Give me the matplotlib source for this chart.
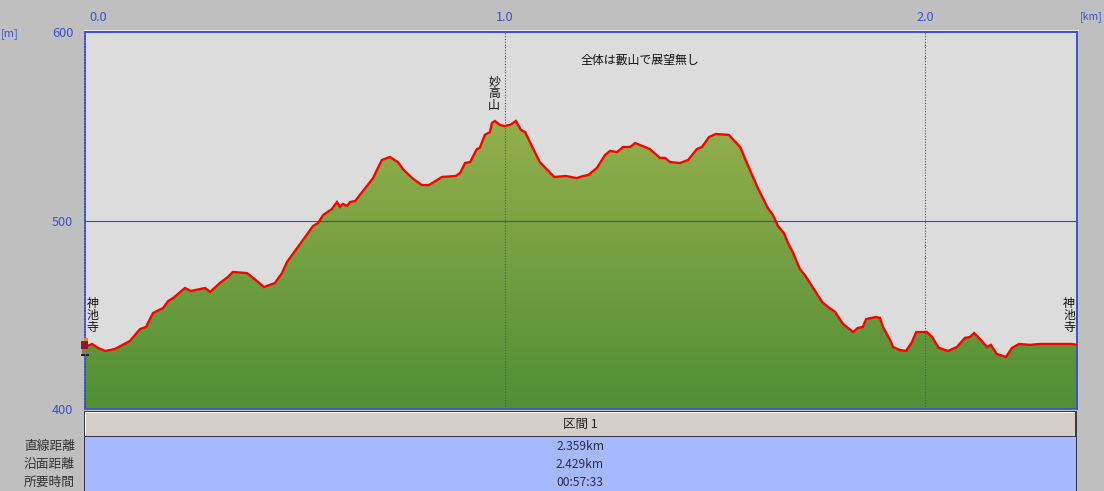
import numpy as np
import matplotlib.pyplot as plt
from matplotlib.patches import Rectangle, Polygon
from matplotlib.colors import LinearSegmentedColormap
from matplotlib.transforms import ScaledTranslation

plt.rcParams['font.family'] = ['Noto Sans CJK JP', 'DejaVu Sans']

W, H = 1104, 491

# profile
dist_km = [0, .017, .031, .048, .071, .107, .131, .145, .162, .186, .198, .210, .238, .252, .286, .298,
           .321, .340, .352, .386, .412, .426, .452, .469, .481, .500, .524, .543, .555, .567, .588, .600,
           .607, .614, .624, .631, .643, .660, .686, .695, .707, .726, .745, .757, .779, .802, .819, .850,
           .883, .893, .905, .917, .933, .940, .952, .964, .969, .976, .988, .998, 1.012, 1.026, 1.038, 1.048,
           1.064, 1.083, 1.117, 1.145, 1.171, 1.186, 1.198, 1.219, 1.238, 1.250, 1.267, 1.281, 1.298, 1.310,
           1.345, 1.369, 1.381, 1.393, 1.417, 1.436, 1.457, 1.469, 1.486, 1.502, 1.533, 1.560, 1.576, 1.602,
           1.626, 1.638, 1.650, 1.664, 1.674, 1.686, 1.702, 1.714, 1.755, 1.769, 1.786, 1.805, 1.829, 1.840,
           1.852, 1.860, 1.883, 1.893, 1.900, 1.917, 1.924, 1.940, 1.955, 1.969, 1.979, 2.005, 2.017, 2.033,
           2.055, 2.076, 2.095, 2.107, 2.117, 2.131, 2.148, 2.157, 2.171, 2.193, 2.207, 2.224, 2.250, 2.274,
           2.350, 2.362]
elev_m = [432.9, 434.5, 432.4, 430.8, 431.8, 436.1, 442.4, 443.5, 450.9, 453.6, 457.3, 458.9, 464.2, 462.6, 464.2, 462.1,
          466.8, 470.0, 472.7, 472.1, 467.4, 464.7, 466.8, 472.1, 478.0, 483.8, 491.2, 497.1, 498.7, 502.9, 506.1, 509.8,
          507.2, 508.8, 507.7, 509.8, 510.3, 515.1, 522.5, 526.8, 532.1, 533.7, 531.0, 527.3, 522.5, 518.8, 518.8, 523.1,
          523.6, 525.2, 530.5, 531.0, 537.9, 538.5, 545.4, 546.9, 551.7, 552.8, 550.7, 550.1, 550.7, 552.8, 548.0, 546.9,
          539.5, 531.0, 523.1, 523.6, 522.5, 523.6, 524.1, 527.9, 534.7, 536.9, 536.3, 539.0, 539.0, 541.1,
          537.9, 533.2, 533.2, 531.0, 530.5, 532.1, 537.9, 539.0, 544.3, 545.9, 545.4, 539.0, 530.5, 517.2,
          506.6, 502.9, 497.1, 493.4, 488.1, 482.8, 474.3, 471.1, 456.8, 454.1, 451.5, 445.1, 440.8, 443.0,
          443.5, 447.7, 448.8, 448.3, 443.5, 436.6, 432.9, 431.3, 430.8, 435.5, 440.8, 440.8, 438.2, 432.4,
          430.8, 432.9, 437.7, 438.2, 440.3, 437.1, 432.9, 434.0, 429.2, 427.6, 432.4, 434.5, 434.0, 434.5,
          434.5, 434.0]

x_ticks = [0.0, 1.0, 2.0]
x_labels = ['0.0', '1.0', '2.0']
y_ticks = [400, 500, 600]
y_labels = ['400', '500', '600']
row_names = ['直線距離', '沿面距離', '所要時間']
row_values = ['2.359km', '2.429km', '00:57:33']
section_name = '区間 1'
note_text = '全体は藪山で展望無し'
place_names = ['神\n池\n寺', '妙\n高\n山', '神\n池\n寺']

BG = '#bfbfbf'
BLUE = '#3f4fd0'
TXT = '#111111'

fig = plt.figure(figsize=(W / 100, H / 100), dpi=100, facecolor=BG)

# page overlay in pixel coordinates, for the table below the chart
page = fig.add_axes([0, 0, 1, 1], zorder=0)
page.set_xlim(0, W)
page.set_ylim(H, 0)
page.axis('off')

ax = fig.add_axes([85 / W, 1 - 409 / H, (1077 - 85) / W, (409 - 32) / H], zorder=1)
ax.set_facecolor('#dcdcdc')

# green gradient clipped to the terrain
grad = LinearSegmentedColormap.from_list('terrain_g', ['#508f35', '#94af4c'])
img = ax.imshow(np.linspace(0, 1, 256).reshape(-1, 1), cmap=grad, origin='lower', aspect='auto',
                extent=[0, 2.362, 400, 553], zorder=1)
poly = Polygon(np.column_stack([[0] + dist_km + [2.362], [400] + elev_m + [400]]),
               closed=True, transform=ax.transData, fc='none', ec='none')
ax.add_patch(poly)
img.set_clip_path(poly)
ax.set_xlim(0, 2.362)
ax.set_ylim(400, 600)

ax.axhline(500, color='#3550b0', lw=0.8, zorder=2)
for v in x_ticks[1:]:
    ax.axvline(v, color='#3550c0', lw=0.8, ls=(0, (1, 1.5)), zorder=2)
ax.plot(dist_km, elev_m, color='#ff0000', lw=1.7, zorder=3, solid_joinstyle='miter')

ax.set_xticks(x_ticks)
ax.set_xticklabels(x_labels, color=BLUE, fontsize=9.2)
ax.set_yticks(y_ticks)
ax.set_yticklabels(y_labels, color=BLUE, fontsize=9.2)
ax.xaxis.tick_top()
ax.tick_params(axis='x', length=0, pad=5.5)
ax.tick_params(axis='y', length=0, pad=8.5)
first = ax.get_xticklabels()[0]
first.set_ha('left')
first.set_transform(first.get_transform() + ScaledTranslation(4 / 100, 0, fig.dpi_scale_trans))

for s in ['top', 'right', 'bottom']:
    ax.spines[s].set_color(BLUE)
    ax.spines[s].set_linewidth(1.4)
ax.spines['bottom'].set_linewidth(1.2)
ax.spines['left'].set_color(BLUE)
ax.spines['left'].set_linewidth(1.2)
ax.spines['left'].set_linestyle((0, (1, 0.6)))

page.add_patch(Rectangle((83.5, 30), 1.5, 380, fc='#f4f4f4', ec='none'))
page.add_patch(Rectangle((83.5, 30), 995, 1.2, fc='#e8e8e8', ec='none'))

# unit labels
page.text(10, 34, '[m]', color=BLUE, fontsize=8, ha='center', va='center')
page.text(1091, 17, '[km]', color=BLUE, fontsize=7.5, ha='center', va='center')

# annotations on the chart
page_note = dict(color=TXT, fontsize=8.6, ha='center', zorder=5, linespacing=0.9)
fig.text(639.5 / W, 1 - 60.5 / H, note_text, va='center', **page_note)
fig.text(92.5 / W, 1 - 315 / H, place_names[0], va='center', **page_note)
fig.text(494 / W, 1 - 94 / H, place_names[1], va='center', **page_note)
fig.text(1069 / W, 1 - 315.5 / H, place_names[2], va='center', **page_note)

# section header and value panel
page.add_patch(Rectangle((84, 411), 993, 26, fc='#3a3a44', ec='none'))
page.add_patch(Rectangle((85, 412), 990, 24, fc='#ffffff', ec='none'))
page.add_patch(Rectangle((86, 413), 989, 23, fc='#d4d0c8', ec='none'))
page.add_patch(Rectangle((84, 437), 993, 54, fc='#2f3550', ec='none'))
page.add_patch(Rectangle((85, 437), 991, 54, fc='#a6b8ff', ec='none'))
page.text(580, 424, section_name, color='#222222', fontsize=9, ha='center', va='center')
for i, (name, val) in enumerate(zip(row_names, row_values)):
    yy = 446.5 + i * 18
    page.text(75, yy, name, color='#333333', fontsize=9.2, ha='right', va='center')
    page.text(580, yy, val, color='#2a3050', fontsize=8.7, ha='center', va='center')

# little hiker at the start point
hiker = fig.add_axes([0, 0, 1, 1], zorder=2)
hiker.set_xlim(0, W)
hiker.set_ylim(H, 0)
hiker.axis('off')
hiker.patch.set_alpha(0)
for x0, y0, w, h, c in [(84, 338, 4, 3, '#e08a30'), (81, 341, 7, 8, '#8a1830'), (82, 349, 6, 5, '#8b7a55'),
                        (81, 354, 4, 2, '#222222'), (86, 354, 3, 2, '#222222')]:
    hiker.add_patch(Rectangle((x0, y0), w, h, fc=c, ec='none'))

fig.savefig('out.png', dpi=100, facecolor=BG)
